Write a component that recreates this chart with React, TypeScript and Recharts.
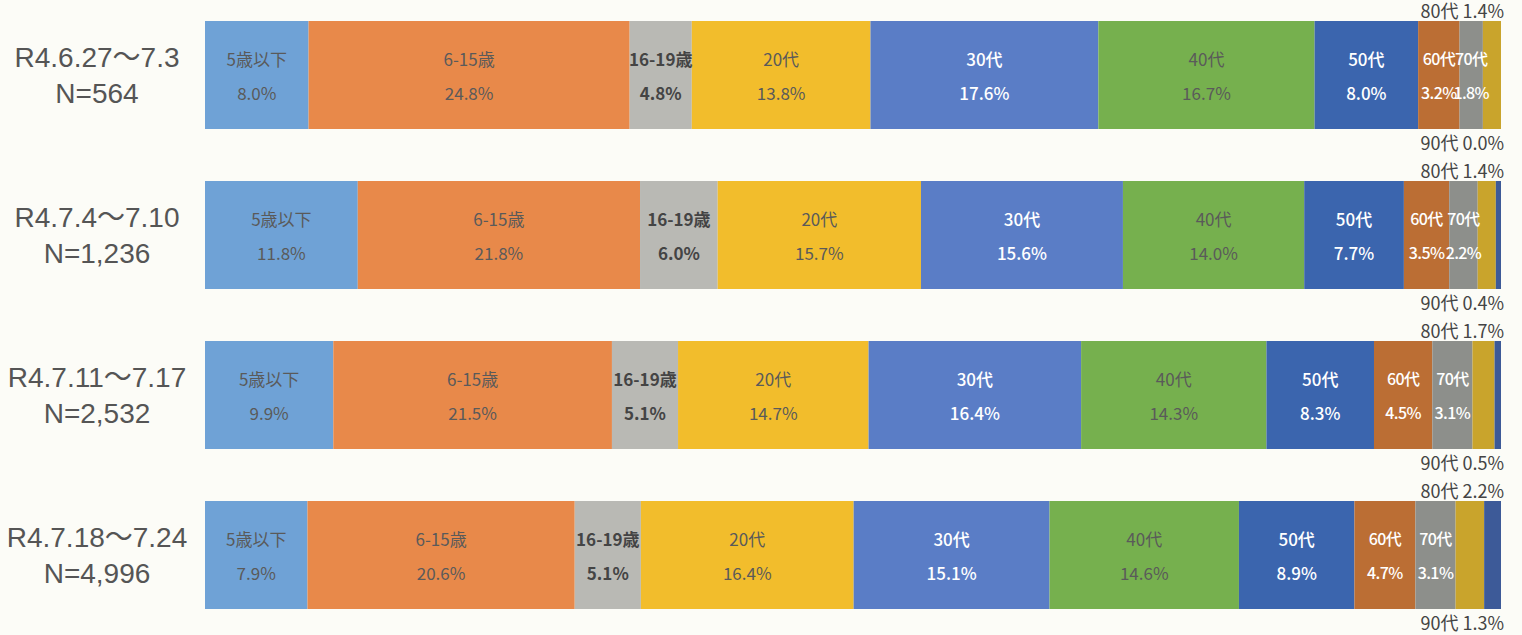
import React from 'react';
import { BarChart, Bar, XAxis, YAxis, LabelList } from 'recharts';

// 期間とサンプル数
const periods = ['R4.6.27～7.3', 'R4.7.4～7.10', 'R4.7.11～7.17', 'R4.7.18～7.24'];
const counts = ['N=564', 'N=1,236', 'N=2,532', 'N=4,996'];

// 年代区分
const ageGroups = ['5歳以下', '6-15歳', '16-19歳', '20代', '30代', '40代', '50代', '60代', '70代', '80代', '90代'];

// 各年代の割合 (%)
const under5 = [8.0, 11.8, 9.9, 7.9];
const age6to15 = [24.8, 21.8, 21.5, 20.6];
const age16to19 = [4.8, 6.0, 5.1, 5.1];
const age20s = [13.8, 15.7, 14.7, 16.4];
const age30s = [17.6, 15.6, 16.4, 15.1];
const age40s = [16.7, 14.0, 14.3, 14.6];
const age50s = [8.0, 7.7, 8.3, 8.9];
const age60s = [3.2, 3.5, 4.5, 4.7];
const age70s = [1.8, 2.2, 3.1, 3.1];
const age80s = [1.4, 1.4, 1.7, 2.2];
const age90s = [0.0, 0.4, 0.5, 1.3];

const seriesValues = [under5, age6to15, age16to19, age20s, age30s, age40s, age50s, age60s, age70s, age80s, age90s];

const colors = ['#6fa2d6', '#e8894a', '#b9b9b4', '#f2bd2c', '#5a7dc6', '#76b04e', '#3b65ae', '#bb6e34', '#8d8f8b', '#c9a42c', '#3d5a98'];
const labelColors = ['#5a5a5a', '#5a5a5a', '#444', '#5a5a5a', '#fff', '#5a5a5a', '#fff', '#fff', '#fff', '', ''];

const data = periods.map((period, i) => {
  const row: Record<string, string | number> = { period, n: counts[i] };
  ageGroups.forEach((g, k) => {
    row[`s${k}`] = seriesValues[k][i];
  });
  return row;
});

const FONT = '"Noto Sans CJK JP", "Noto Sans", sans-serif';
const TICK_FONT = '"Liberation Sans", Arial, "Noto Sans CJK JP", sans-serif';

function PeriodTick(props: any) {
  const { y, payload, index } = props;
  return (
    <g>
      <text x={97} y={y - 8} textAnchor="middle" fontSize={28} fill="#555" fontFamily={TICK_FONT}>
        {payload.value}
      </text>
      <text x={97} y={y + 28} textAnchor="middle" fontSize={28} fill="#555" fontFamily={TICK_FONT}>
        {counts[index]}
      </text>
    </g>
  );
}

// セグメント内ラベル (細い区分は少し詰める)
function makeInnerLabel(k: number) {
  return (props: any) => {
    const { x, y, width, height, index } = props;
    const cx = x + width / 2;
    const cy = y + height / 2;
    const weight = k === 2 ? 700 : labelColors[k] === '#fff' ? 500 : 400;
    const narrow = k >= 7;
    const size = narrow ? 16 : 17;
    const spacing = narrow ? -0.6 : 0;
    return (
      <g>
        <text x={cx} y={cy - 17} textAnchor="middle" dominantBaseline="central" fontSize={size} letterSpacing={spacing} fill={labelColors[k]} fontWeight={weight} fontFamily={FONT}>
          {ageGroups[k]}
        </text>
        <text x={cx} y={cy + 17} textAnchor="middle" dominantBaseline="central" fontSize={size} letterSpacing={spacing} fill={labelColors[k]} fontWeight={weight} fontFamily={FONT}>
          {seriesValues[k][index].toFixed(1)}%
        </text>
      </g>
    );
  };
}

// 80代・90代は棒の外側に表示 (80代の系列から棒の右端を求める)
function OuterLabel(props: any) {
  const { x, y, width, height, index } = props;
  const perUnit = width / age80s[index];
  const right = x + width + perUnit * age90s[index] + 3;
  return (
    <g>
      <text x={right} y={y - 3} textAnchor="end" fontSize={18} fill="#444" fontFamily={FONT}>
        {`80代 ${age80s[index].toFixed(1)}%`}
      </text>
      <text x={right} y={y + height + 21} textAnchor="end" fontSize={18} fill="#444" fontFamily={FONT}>
        {`90代 ${age90s[index].toFixed(1)}%`}
      </text>
    </g>
  );
}

export default function App() {
  return (
    <div style={{ position: 'absolute', left: 0, top: -5, width: 1522, height: 645, background: '#fcfcf7' }}>
      <BarChart
        width={1522}
        height={640}
        data={data}
        layout="vertical"
        stackOffset="expand"
        margin={{ top: 0, right: 21, left: 0, bottom: 0 }}
      >
        <XAxis type="number" hide domain={[0, 1]} />
        <YAxis
          type="category"
          dataKey="period"
          width={205}
          axisLine={false}
          tickLine={false}
          tick={<PeriodTick />}
        />
        {ageGroups.map((g, k) => (
          <Bar key={g} dataKey={`s${k}`} name={g} stackId="a" fill={colors[k]} barSize={108} isAnimationActive={false}>
            {k < 9 && <LabelList dataKey={`s${k}`} content={makeInnerLabel(k)} />}
            {k === 9 && <LabelList dataKey={`s${k}`} content={<OuterLabel />} />}
          </Bar>
        ))}
      </BarChart>
    </div>
  );
}
